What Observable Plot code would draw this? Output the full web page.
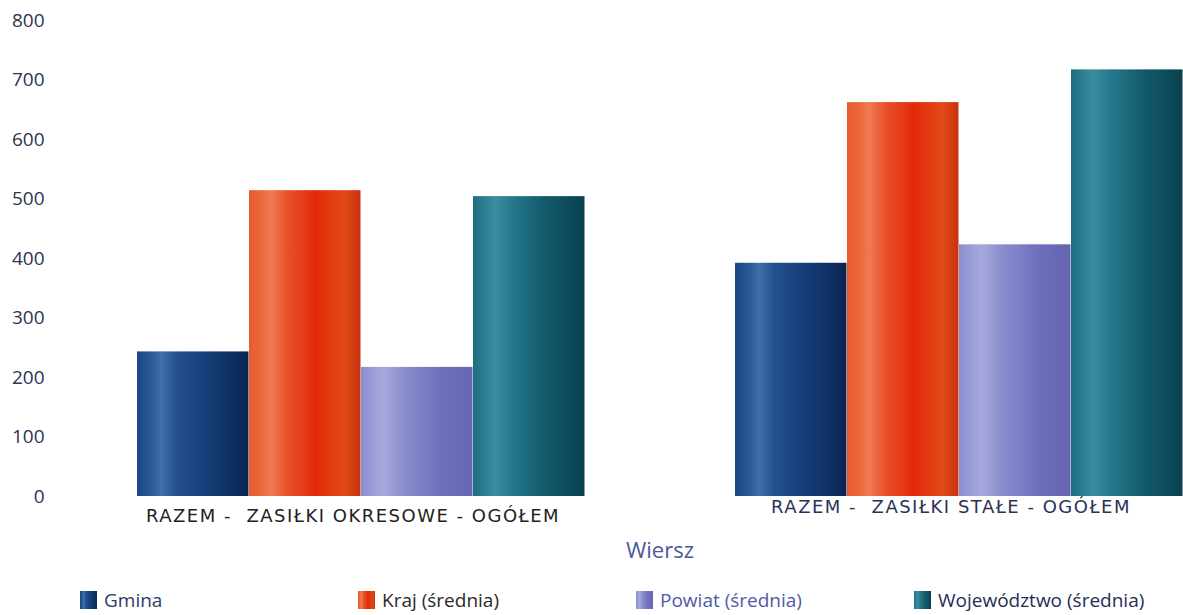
<!DOCTYPE html>
<html>
<head>
<meta charset="utf-8">
<script src="https://cdn.jsdelivr.net/npm/d3@7"></script>
<script src="https://cdn.jsdelivr.net/npm/@observablehq/plot@0.6"></script>
<style>
  html, body { margin: 0; padding: 0; background: #fff; }
  body { width: 1183px; height: 615px; position: relative; overflow: hidden; font-family: "Open Sans", sans-serif; }
  svg text { white-space: pre; }
  g[font-family="DejaVu Sans"] text { letter-spacing: 1.5px; }
  #legend { position: absolute; left: 0; top: 575px; width: 1183px; height: 40px; }
  .item { position: absolute; top: 12px; display: flex; align-items: center; font-size: 19px; }
  .sw { width: 17px; height: 18px; margin-right: 7px; }
</style>
</head>
<body>
<div id="chart"></div>
<div id="legend"></div>
<script>
const categories = ["RAZEM -  ZASIŁKI OKRESOWE - OGÓŁEM", "RAZEM -  ZASIŁKI STAŁE - OGÓŁEM"];
const series = ["Gmina", "Kraj (średnia)", "Powiat (średnia)", "Województwo (średnia)"];
const okresowe = [243, 514, 217, 504];
const stale = [392, 662, 423, 717];
const yTicks = [0, 100, 200, 300, 400, 500, 600, 700, 800];
const axisTitle = "Wiersz";

const gradIds = ["gGmina", "gKraj", "gPowiat", "gWoj"];
const gradStops = [
  [[0, "#1a4680"], [0.12, "#285896"], [0.22, "#3f70a8"], [0.35, "#245190"], [0.6, "#163f7a"], [0.85, "#0f2f63"], [1, "#0a2550"]],
  [[0, "#e65a2e"], [0.12, "#ec6a3e"], [0.2, "#f07a52"], [0.35, "#e8502a"], [0.6, "#e22a0a"], [0.85, "#e24a18"], [1, "#c83210"]],
  [[0, "#8c8ed0"], [0.2, "#a6a8dc"], [0.4, "#8a8ccc"], [0.7, "#6f70bd"], [1, "#6565b2"]],
  [[0, "#1f6e80"], [0.2, "#3a8c9f"], [0.35, "#26798c"], [0.65, "#125a6c"], [0.85, "#0d4d5c"], [1, "#0a3f4c"]]
];
const legendTextColors = ["#2b3a66", "#2a2a2a", "#4f5aa5", "#1f2d55"];

const data = [];
categories.forEach((c, ci) => {
  const vals = ci === 0 ? okresowe : stale;
  series.forEach((s, si) => data.push({category: c, series: s, value: vals[si]}));
});

const svg = Plot.plot({
  width: 1183,
  height: 575,
  marginLeft: 135,
  marginRight: 0,
  marginTop: 20,
  marginBottom: 79,
  style: {background: "transparent"},
  fx: {domain: categories, paddingInner: 0.25, paddingOuter: 0, axis: null},
  x: {domain: series, padding: 0, axis: null},
  y: {domain: [0, 800]},
  color: {domain: series, range: gradIds.map(id => `url(#${id})`)},
  marks: [
    Plot.axisY({ticks: yTicks, tickSize: 0, tickPadding: 92, fontSize: 19, fontFamily: "Open Sans", color: "#2b3550", label: null}),
    Plot.barY(data, {fx: "category", x: "series", y: "value", fill: "series", insetRight: 0.5}),
    Plot.text([categories[0]], {fx: d => d, text: d => d, frameAnchor: "bottom", lineAnchor: "top", dy: 13, dx: -8,
      fontFamily: "DejaVu Sans", fontSize: 18, fill: "#222"}),
    Plot.text([categories[1]], {fx: d => d, text: d => d, frameAnchor: "bottom", lineAnchor: "top", dy: 4, dx: -8,
      fontFamily: "DejaVu Sans", fontSize: 18, fill: "#2a3355"}),
    Plot.text([axisTitle], {text: d => d, frameAnchor: "bottom", lineAnchor: "middle", dy: 54,
      facet: "super", fontFamily: "Open Sans", fontSize: 22, fill: "#4a5a9a"})
  ]
});

const defs = d3.select(svg).insert("defs", ":first-child");
gradIds.forEach((id, i) => {
  const g = defs.append("linearGradient").attr("id", id).attr("x1", 0).attr("x2", 1).attr("y1", 0).attr("y2", 0);
  gradStops[i].forEach(([o, c]) => g.append("stop").attr("offset", o).attr("stop-color", c));
});

document.getElementById("chart").appendChild(svg);

const legend = d3.select("#legend");
series.forEach((s, i) => {
  const item = legend.append("div").attr("class", "item").style("left", (80 + i * 278) + "px");
  const sw = item.append("svg").attr("class", "sw").attr("width", 17).attr("height", 18);
  const lg = sw.append("defs").append("linearGradient").attr("id", "L" + gradIds[i]);
  gradStops[i].forEach(([o, c]) => lg.append("stop").attr("offset", o).attr("stop-color", c));
  sw.append("rect").attr("width", 17).attr("height", 18).attr("fill", `url(#L${gradIds[i]})`);
  item.append("span").text(s).style("color", legendTextColors[i]);
});
</script>
</body>
</html>
